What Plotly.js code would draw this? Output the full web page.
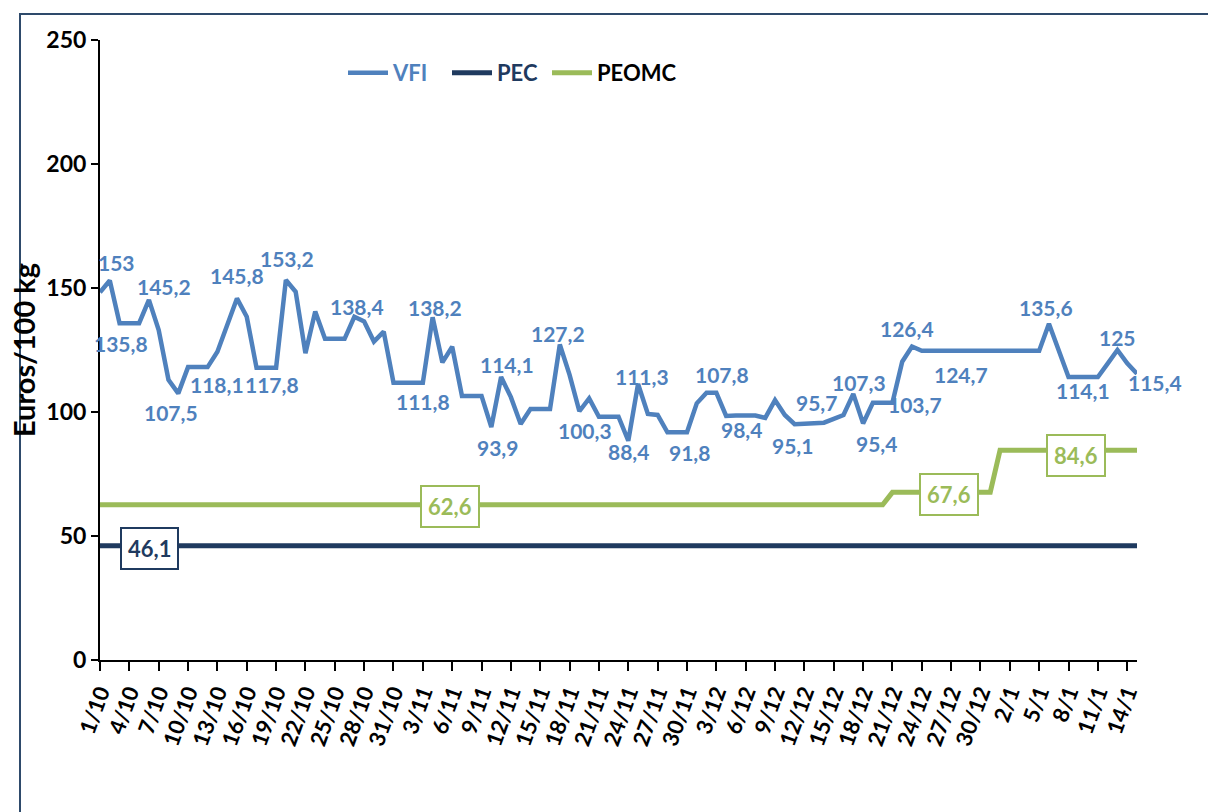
<!DOCTYPE html>
<html>
<head>
<meta charset="utf-8">
<script src="https://cdn.plot.ly/plotly-3.0.1.min.js"></script>
<style>
html,body{margin:0;padding:0;background:#fff;}
#chart{width:1208px;height:812px;}
</style>
</head>
<body>
<div id="chart"></div>
<script>
// ---- data ----
var startDate = '2014-10-01';
var nDays = 107; // 1/10/2014 .. 15/1/2015

var vfi = [
  148.3, 153.0, 135.8, 135.8, 135.8, 145.2, 133.0, 113.0, 107.5, 118.1,
  118.1, 118.1, 124.3, 135.0, 145.8, 138.4, 117.8, 117.8, 117.8, 153.2,
  148.5, 123.7, 140.5, 129.5, 129.5, 129.5, 138.4, 136.5, 128.4, 132.4,
  111.8, 111.8, 111.8, 111.8, 138.2, 120.0, 126.3, 106.5, 106.5, 106.5,
  93.9, 114.1, 106.0, 95.2, 101.2, 101.2, 101.2, 127.2, 115.0, 100.3,
  105.5, 98.1, 98.1, 98.1, 88.4, 111.3, 99.2, 98.8, 91.8, 91.8,
  91.8, 103.5, 107.8, 107.8, 98.4, 98.6, 98.6, 98.6, 97.6, 104.8,
  98.8, 95.1, 95.3, 95.5, 95.7, 97.2, 98.8, 107.3, 95.4, 103.7,
  103.7, 103.7, 120.3, 126.4, 124.7, 124.7, 124.7, 124.7, 124.7, 124.7,
  124.7, 124.7, 124.7, 124.7, 124.7, 124.7, 124.7, 135.6, 124.3, 114.1,
  114.1, 114.1, 114.1, 119.5, 125.0, 119.6, 115.4
];

var pec = [
  46.1, 46.1, 46.1, 46.1, 46.1, 46.1, 46.1, 46.1, 46.1, 46.1,
  46.1, 46.1, 46.1, 46.1, 46.1, 46.1, 46.1, 46.1, 46.1, 46.1,
  46.1, 46.1, 46.1, 46.1, 46.1, 46.1, 46.1, 46.1, 46.1, 46.1,
  46.1, 46.1, 46.1, 46.1, 46.1, 46.1, 46.1, 46.1, 46.1, 46.1,
  46.1, 46.1, 46.1, 46.1, 46.1, 46.1, 46.1, 46.1, 46.1, 46.1,
  46.1, 46.1, 46.1, 46.1, 46.1, 46.1, 46.1, 46.1, 46.1, 46.1,
  46.1, 46.1, 46.1, 46.1, 46.1, 46.1, 46.1, 46.1, 46.1, 46.1,
  46.1, 46.1, 46.1, 46.1, 46.1, 46.1, 46.1, 46.1, 46.1, 46.1,
  46.1, 46.1, 46.1, 46.1, 46.1, 46.1, 46.1, 46.1, 46.1, 46.1,
  46.1, 46.1, 46.1, 46.1, 46.1, 46.1, 46.1, 46.1, 46.1, 46.1,
  46.1, 46.1, 46.1, 46.1, 46.1, 46.1, 46.1
];

var peomc = [
  62.6, 62.6, 62.6, 62.6, 62.6, 62.6, 62.6, 62.6, 62.6, 62.6,
  62.6, 62.6, 62.6, 62.6, 62.6, 62.6, 62.6, 62.6, 62.6, 62.6,
  62.6, 62.6, 62.6, 62.6, 62.6, 62.6, 62.6, 62.6, 62.6, 62.6,
  62.6, 62.6, 62.6, 62.6, 62.6, 62.6, 62.6, 62.6, 62.6, 62.6,
  62.6, 62.6, 62.6, 62.6, 62.6, 62.6, 62.6, 62.6, 62.6, 62.6,
  62.6, 62.6, 62.6, 62.6, 62.6, 62.6, 62.6, 62.6, 62.6, 62.6,
  62.6, 62.6, 62.6, 62.6, 62.6, 62.6, 62.6, 62.6, 62.6, 62.6,
  62.6, 62.6, 62.6, 62.6, 62.6, 62.6, 62.6, 62.6, 62.6, 62.6,
  62.6, 67.6, 67.6, 67.6, 67.6, 67.6, 67.6, 67.6, 67.6, 67.6,
  67.6, 67.6, 84.6, 84.6, 84.6, 84.6, 84.6, 84.6, 84.6, 84.6,
  84.6, 84.6, 84.6, 84.6, 84.6, 84.6, 84.6
];

// labelled points: day index into the series, pixel offset of the label
var vfiLabelDays  = [1, 2, 5, 8, 11, 14, 18, 19, 26, 34, 33, 40, 41, 47, 49, 54, 55, 60, 63, 64, 71, 74, 77, 78, 81, 83, 88, 97, 100, 104, 106];
var vfiLabelDx    = [7, 1, 15, -7, 9, 0, -4, 1, 3, 2, 0, 6, 6, -2, 6, 0, 4, 3, 6, 15, -2, -7, 6, 13, 23, -5, 0, -3, 5, 0, 18];
var vfiLabelDy    = [-18, 20, -13, 19, 17, -23, 17, -22, -10, -10, 19, 20, -13, -11, 19, 11, -7, 20, -18, 14, 21, -20, -11, 20, 2, -18, 24, -16, 13, -13, 9];

var pecLabelDay = 5;     var pecLabelDx = 1;  var pecLabelDy = 3;
var peomcLabelDays = [36, 87, 100];
var peomcLabelDx = [-2, -2, -2];
var peomcLabelDy = [2, 2, 5];

var seriesNames = ['VFI', 'PEC', 'PEOMC'];
var yTitle = 'Euros/100 kg';

// ---- build ----
function addDays(iso, n) {
  var d = new Date(iso + 'T00:00:00Z');
  d.setUTCDate(d.getUTCDate() + n);
  return d.toISOString().slice(0, 10);
}
var dates = [];
for (var i = 0; i < nDays; i++) dates.push(addDays(startDate, i));

function fmt(v) { return String(v).replace('.', ','); }

var FONT = 'Lato, "Open Sans", sans-serif';
var cBlue = '#4f81bd', cNavy = '#1f3a5f', cGreen = '#9bbb59';

var traces = [
  {x: dates, y: vfi, type: 'scatter', mode: 'lines', legend: 'legend',
   name: '<span style="color:' + cBlue + '">' + seriesNames[0] + '</span>',
   line: {color: cBlue, width: 4.5}, hoverinfo: 'skip'},
  {x: dates, y: pec, type: 'scatter', mode: 'lines', legend: 'legend2',
   name: '<span style="color:' + cNavy + '">' + seriesNames[1] + '</span>',
   line: {color: cNavy, width: 5}, hoverinfo: 'skip'},
  {x: dates, y: peomc, type: 'scatter', mode: 'lines', legend: 'legend3',
   name: '<span style="color:#000">' + seriesNames[2] + '</span>',
   line: {color: cGreen, width: 5}, hoverinfo: 'skip'}
];

var annotations = [];
vfiLabelDays.forEach(function (d, k) {
  annotations.push({
    x: dates[d], y: vfi[d], xref: 'x', yref: 'y', text: fmt(vfi[d]), showarrow: false,
    xshift: vfiLabelDx[k], yshift: -vfiLabelDy[k],
    font: {family: FONT, size: 21, color: cBlue, weight: 700}
  });
});
annotations.push({
  x: dates[pecLabelDay], y: pec[pecLabelDay], xref: 'x', yref: 'y', text: fmt(pec[pecLabelDay]), showarrow: false,
  xshift: pecLabelDx, yshift: -pecLabelDy, bgcolor: '#fff', bordercolor: cNavy, borderwidth: 2, borderpad: 6,
  font: {family: FONT, size: 22, color: cNavy, weight: 700}
});
peomcLabelDays.forEach(function (d, k) {
  annotations.push({
    x: dates[d], y: peomc[d], xref: 'x', yref: 'y', text: fmt(peomc[d]), showarrow: false,
    xshift: peomcLabelDx[k], yshift: -peomcLabelDy[k], bgcolor: '#fff', bordercolor: cGreen, borderwidth: 2, borderpad: 6,
    font: {family: FONT, size: 22, color: cGreen, weight: 700}
  });
});

function leg(xpx) {
  return {
    orientation: 'h', x: (xpx - 100) / 1037, y: 0.947, xanchor: 'left', yanchor: 'middle',
    font: {family: FONT, size: 22, weight: 700, color: '#000'},
    itemwidth: 40, bgcolor: 'rgba(0,0,0,0)', borderwidth: 0
  };
}

var layout = {
  width: 1208, height: 812,
  margin: {l: 100, r: 71, t: 40, b: 152},
  paper_bgcolor: '#fff', plot_bgcolor: '#fff',
  showlegend: true,
  legend: leg(343),
  legend2: leg(447),
  legend3: leg(547),
  xaxis: {
    type: 'date', range: [dates[0], dates[nDays - 1]],
    tickmode: 'linear', tick0: dates[0], dtick: 3 * 86400000, tickformat: '%-d/%-m',
    tickangle: -70, ticks: 'outside', ticklen: 9, tickwidth: 2, tickcolor: '#000',
    showline: true, linecolor: '#000', linewidth: 2, showgrid: false, zeroline: false,
    tickfont: {family: FONT, size: 22, color: '#000', weight: 700}
  },
  yaxis: {
    range: [0, 250], tickmode: 'linear', tick0: 0, dtick: 50,
    ticks: 'outside', ticklen: 7, tickwidth: 2, tickcolor: '#000',
    showline: true, linecolor: '#000', linewidth: 2, showgrid: false, zeroline: false,
    tickfont: {family: FONT, size: 23, color: '#000', weight: 700},
    title: {text: yTitle, font: {family: FONT, size: 29, color: '#000', weight: 700}, standoff: 2}
  },
  annotations: annotations,
  shapes: [{
    type: 'rect', xref: 'paper', yref: 'paper',
    x0: (20 - 100) / 1037, x1: (1240 - 100) / 1037,
    y0: (660 - 840) / 620, y1: (660 - 14) / 620,
    line: {color: '#2e4a6b', width: 2}, fillcolor: 'rgba(0,0,0,0)', layer: 'below'
  }]
};

Plotly.newPlot('chart', traces, layout, {staticPlot: true, displayModeBar: false});
</script>
</body>
</html>
